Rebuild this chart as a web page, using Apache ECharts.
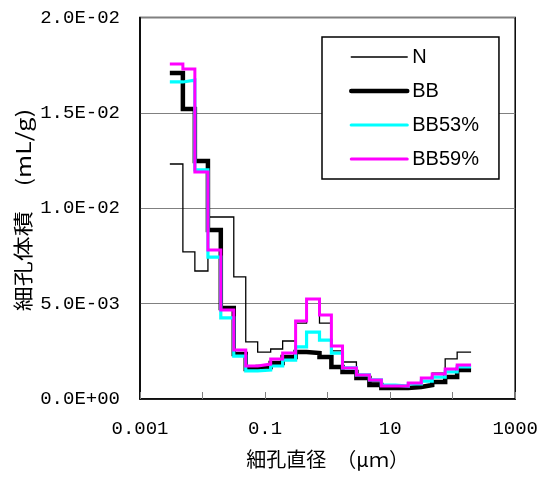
<!DOCTYPE html>
<html><head><meta charset="utf-8">
<script src="https://cdn.jsdelivr.net/npm/echarts@6/dist/echarts.min.js"></script>
<style>html,body{margin:0;padding:0;background:#fff}#c{width:541px;height:477px}</style>
</head><body><div id="c"></div>
<script>
// Bin edges (pore diameter, µm) — left edges of each bin, last value is the right edge of the final bin
const binEdges = [0.0030, 0.00485, 0.00754, 0.0122, 0.0196, 0.0316, 0.0491, 0.0762, 0.123, 0.191, 0.308, 0.461, 0.742, 1.15, 1.73, 2.89, 4.66, 7.24, 12.1, 19.5, 31.5, 47.1, 75.9, 118, 197];
const seriesNames = ['N', 'BB', 'BB53%', 'BB59%'];
const valuesN = [0.01232, 0.00771, 0.00671, 0.00954, 0.00954, 0.00640, 0.00299, 0.00246, 0.00262, 0.00304, 0.00398, 0.00524, 0.00398, 0.00252, 0.00194, 0.00121, 0.00089, 0.00063, 0.00063, 0.00073, 0.00094, 0.00136, 0.00210, 0.00246];
const valuesBB = [0.01709, 0.01520, 0.01248, 0.00886, 0.00477, 0.00236, 0.00157, 0.00168, 0.00189, 0.00220, 0.00246, 0.00241, 0.00220, 0.00168, 0.00142, 0.00110, 0.00073, 0.00058, 0.00058, 0.00063, 0.00073, 0.00089, 0.00115, 0.00152];
const valuesBB53 = [0.01662, 0.01672, 0.01201, 0.00744, 0.00425, 0.00225, 0.00147, 0.00152, 0.00173, 0.00204, 0.00273, 0.00351, 0.00309, 0.00241, 0.00163, 0.00126, 0.00100, 0.00073, 0.00068, 0.00079, 0.00094, 0.00115, 0.00142, 0.00168];
const valuesBB59 = [0.01756, 0.01730, 0.01190, 0.00781, 0.00467, 0.00257, 0.00173, 0.00183, 0.00210, 0.00241, 0.00409, 0.00524, 0.00440, 0.00278, 0.00163, 0.00126, 0.00100, 0.00068, 0.00068, 0.00084, 0.00110, 0.00131, 0.00157, 0.00178];
const xTickLabels = ['0.001', '0.1', '10', '1000'];
const yTickLabels = ['0.0E+00', '5.0E-03', '1.0E-02', '1.5E-02', '2.0E-02'];
const xTitle = '細孔直径　（μｍ）';
const yTitle = '細孔体積　(mL/g)';

function stepData(vals) {
  const d = vals.map((v, i) => [binEdges[i], v]);
  d.push([binEdges[vals.length], vals[vals.length - 1]]);
  return d;
}
function yFmt(v) {
  const i = Math.round(v / 0.005);
  return yTickLabels[i] !== undefined ? yTickLabels[i] : '';
}
function xFmt(v) {
  const s = String(Number(v.toPrecision(6)));
  return xTickLabels.indexOf(s) >= 0 ? s : '';
}
const styles = [
  { color: '#000000', width: 1.3 },
  { color: '#000000', width: 4.5 },
  { color: '#00FFFF', width: 3.2 },
  { color: '#FF00FF', width: 3 }
];
const allVals = [valuesN, valuesBB, valuesBB53, valuesBB59];
const chart = echarts.init(document.getElementById('c'), null, { renderer: 'canvas' });
const monoFont = '"Liberation Mono", "DejaVu Sans Mono", monospace';
const cjkFont = '"Noto Sans CJK JP", sans-serif';
chart.setOption({
  animation: false,
  backgroundColor: '#fff',
  grid: { left: 140, right: 25, top: 17.5, bottom: 78, show: true, borderColor: '#000', borderWidth: 1.5, backgroundColor: 'transparent' },
  legend: {
    orient: 'vertical', left: 322, top: 37,
    data: seriesNames.map((n, k) => ({
      name: n,
      itemStyle: { opacity: 0 },
      lineStyle: { color: styles[k].color, width: styles[k].width, cap: 'round' }
    })),
    itemWidth: 56, itemHeight: 14, itemGap: 14,
    padding: [10, 20, 10, 27],
    borderColor: '#000', borderWidth: 1.5, backgroundColor: '#fff',
    textStyle: { fontFamily: '"Liberation Sans", Arial, sans-serif', fontSize: 20, color: '#000' }
  },
  graphic: [{
    type: 'text', x: 23, y: 210, rotation: Math.PI / 2, scaleX: 1.25, scaleY: 1,
    style: { text: yTitle, fontFamily: cjkFont, fontSize: 20, fill: '#000', align: 'center', verticalAlign: 'middle' }
  }],
  xAxis: {
    type: 'log', logBase: 10, min: 0.001, max: 1000,
    name: xTitle, nameLocation: 'middle', nameGap: 50,
    nameTextStyle: { fontFamily: cjkFont, fontSize: 20, color: '#000' },
    axisLine: { show: true, lineStyle: { color: '#000', width: 1.5 } },
    axisTick: { show: true, inside: true, length: 7, interval: 1, lineStyle: { color: '#808080', width: 1 } },
    axisLabel: { interval: 1, formatter: xFmt, margin: 20, fontFamily: monoFont, fontSize: 19, color: '#000' },
    splitLine: { show: false },
    minorTick: { show: false }
  },
  yAxis: {
    type: 'value', min: 0, max: 0.02, interval: 0.005,
    axisLine: { show: true, lineStyle: { color: '#000', width: 1.5 } },
    axisTick: { show: false },
    axisLabel: { formatter: yFmt, margin: 20, fontFamily: monoFont, fontSize: 19, color: '#000' },
    splitLine: { show: true, lineStyle: { color: '#808080', width: 1 } }
  },
  series: seriesNames.map((n, k) => ({
    name: n, type: 'line', step: 'end', showSymbol: false, symbol: 'none',
    data: stepData(allVals[k]),
    lineStyle: { color: styles[k].color, width: styles[k].width, join: 'miter', cap: 'butt' },
    itemStyle: { color: styles[k].color },
    z: 2 + k
  }))
});
</script></body></html>
